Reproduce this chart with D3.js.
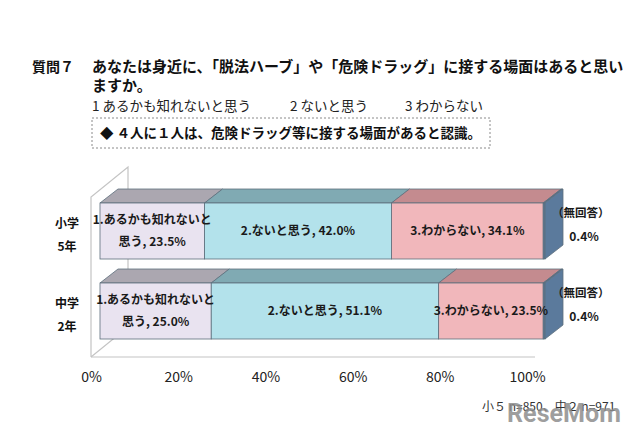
<!DOCTYPE html>
<html>
<head>
<meta charset="utf-8">
<script src="https://cdn.jsdelivr.net/npm/d3@7"></script>
<style>
  body { margin: 0; background: #fff; }
  svg { display: block; font-family: "Noto Sans CJK JP", "Noto Sans", sans-serif; }
</style>
</head>
<body>
<svg width="640" height="429"></svg>
<script>
// data
var catTop = ["小学", "中学"];
var catBottom = ["5年", "2年"];
var seriesNames = ["1.あるかも知れないと思う", "2.ないと思う", "3.わからない", "無回答"];
var elementary5 = [23.5, 42.0, 34.1, 0.4];
var juniorHigh2 = [25.0, 51.1, 23.5, 0.4];
var tickValues = [0, 20, 40, 60, 80, 100];

var rows = [elementary5, juniorHigh2];

var frontColors = ["#e9e3f0", "#b3e2eb", "#f1b7bb", "#56779a"];
var topColors   = ["#aba7b0", "#80aab3", "#c48b8f", "#4d6a8a"];
var sideColor = "#5b7a9c";
var edge = "#5d6e7c";

var svg = d3.select("svg");

// --- header texts
svg.append("text").attr("x", 32).attr("y", 72)
  .attr("font-size", 14).attr("font-weight", "bold").attr("fill", "#111")
  .text("質問７");
svg.append("text").attr("x", 92).attr("y", 72)
  .attr("font-size", 15).attr("font-weight", "bold").attr("fill", "#111")
  .text("あなたは身近に、「脱法ハーブ」や「危険ドラッグ」に接する場面はあると思い");
svg.append("text").attr("x", 92).attr("y", 91)
  .attr("font-size", 15).attr("font-weight", "bold").attr("fill", "#111")
  .text("ますか。");

var optX = [92, 290, 405];
var optText = ["1  あるかも知れないと思う", "2  ないと思う", "3  わからない"];
optText.forEach(function(t, i) {
  svg.append("text").attr("x", optX[i]).attr("y", 111)
    .attr("font-size", 13.5).attr("fill", "#222").text(t);
});

svg.append("rect").attr("x", 92).attr("y", 118).attr("width", 398).attr("height", 30)
  .attr("fill", "none").attr("stroke", "#8a8a8a").attr("stroke-dasharray", "2,2");
svg.append("text").attr("x", 100).attr("y", 138)
  .attr("font-size", 13.5).attr("font-weight", "bold").attr("fill", "#111")
  .text("◆ ４人に１人は、危険ドラッグ等に接する場面があると認識。");

// --- 3D frame (left wall + floor)
var wall = "#c4c4c4";
var wx = 91, wdx = 37, wdy = -30, floorY = 357, wallTop = 197;
var frame = svg.append("g").attr("fill", "none").attr("stroke", wall).attr("stroke-width", 1.2);
frame.append("path").attr("d",
  "M" + wx + "," + floorY + "V" + wallTop + "L" + (wx + wdx) + "," + (wallTop + wdy) +
  "V" + (floorY + wdy) + "L" + wx + "," + floorY);
frame.append("path").attr("d", "M" + wx + "," + floorY + "H535");

// --- scales
var x = d3.scaleLinear().domain([0, 100]).range([100, 545]);
var y = d3.scaleBand().domain(catTop).range([187, 355]).paddingInner(0.3).paddingOuter(0.2);
var dx = 18, dy = -14;

rows.forEach(function(vals, r) {
  var g = svg.append("g");
  var y0 = y(catTop[r]), y1 = y0 + y.bandwidth();
  var acc = 0;
  var segs = vals.map(function(v, i) {
    var s = { i: i, v: v, a: acc, b: acc + v };
    acc += v;
    return s;
  });
  segs.forEach(function(s) {
    var xa = x(s.a), xb = x(s.b);
    g.append("path")
      .attr("d", "M" + xa + "," + y0 + "L" + (xa + dx) + "," + (y0 + dy) + "H" + (xb + dx) + "L" + xb + "," + y0 + "Z")
      .attr("fill", topColors[s.i]).attr("stroke", edge).attr("stroke-width", 0.8);
    g.append("rect").attr("x", xa).attr("y", y0).attr("width", xb - xa).attr("height", y1 - y0)
      .attr("fill", frontColors[s.i]).attr("stroke", edge).attr("stroke-width", 0.8);
  });
  var xe = x(acc);
  g.append("path")
    .attr("d", "M" + xe + "," + y0 + "L" + (xe + dx) + "," + (y0 + dy) + "V" + (y1 + dy) + "L" + xe + "," + y1 + "Z")
    .attr("fill", sideColor).attr("stroke", edge).attr("stroke-width", 0.8);

  // labels in the first three segments
  var cy = (y0 + y1) / 2;
  segs.slice(0, 3).forEach(function(s) {
    var label = seriesNames[s.i] + ", " + s.v.toFixed(1) + "%";
    var cx = (x(s.a) + x(s.b)) / 2;
    var t = g.append("text").attr("text-anchor", "middle")
      .attr("font-size", 12).attr("font-weight", "bold").attr("fill", "#1a1a1a");
    if (label.length > 16) {
      t.append("tspan").attr("x", cx).attr("y", cy - 7).text(label.slice(0, 11));
      t.append("tspan").attr("x", cx).attr("y", cy + 15).text(label.slice(11));
    } else {
      t.attr("x", cx).attr("y", cy + 4).text(label);
    }
  });

  // no-answer note
  svg.append("text").attr("x", 552).attr("y", cy - 14)
    .attr("font-size", 11.5).attr("font-weight", "bold").attr("fill", "#1a1a1a")
    .text("（" + seriesNames[3] + "）");
  svg.append("text").attr("x", 584).attr("y", cy + 10).attr("text-anchor", "middle")
    .attr("font-size", 12).attr("font-weight", "bold").attr("fill", "#1a1a1a")
    .text(vals[3].toFixed(1) + "%");

  // category labels
  svg.append("text").attr("x", 67).attr("y", cy - 3).attr("text-anchor", "middle")
    .attr("font-size", 12).attr("font-weight", "bold").attr("fill", "#111").text(catTop[r]);
  svg.append("text").attr("x", 67).attr("y", cy + 20).attr("text-anchor", "middle")
    .attr("font-size", 12).attr("font-weight", "bold").attr("fill", "#111").text(catBottom[r]);
});

// --- floor axis labels
var xf = d3.scaleLinear().domain([0, 100]).range([91, 527]);
var ax = svg.append("g").attr("transform", "translate(0," + floorY + ")")
  .call(d3.axisBottom(xf).tickValues(tickValues).tickSize(0).tickPadding(15)
    .tickFormat(function(d) { return d + "%"; }));
ax.select(".domain").remove();
ax.selectAll("text").attr("font-size", 14).attr("fill", "#222")
  .attr("font-family", "'Noto Sans CJK JP', sans-serif");

// --- footer and watermark (overlapping as in the source image)
svg.append("text").attr("x", 482).attr("y", 411)
  .attr("font-size", 12).attr("fill", "#333").text("小５ n=850、中２ n=971");
svg.append("text").attr("x", 507).attr("y", 422)
  .attr("font-family", "Roboto, sans-serif").attr("font-weight", "bold")
  .attr("font-size", 25).attr("textLength", 114).attr("lengthAdjust", "spacingAndGlyphs")
  .attr("fill", "#8d8d8d").attr("fill-opacity", 0.85).text("ReseMom");
</script>
</body>
</html>
